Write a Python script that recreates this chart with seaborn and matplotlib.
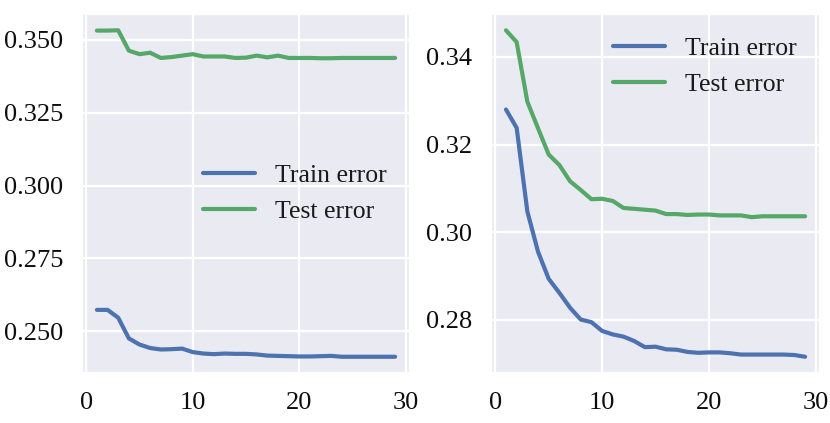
import numpy as np
import pandas as pd
import seaborn as sns
import matplotlib.pyplot as plt

# epochs 1..29
epochs = list(range(1, 30))

# left panel
train_left = [0.2573, 0.2573, 0.2546, 0.2475, 0.2454, 0.2442, 0.2437, 0.2438, 0.2440, 0.2428,
              0.2423, 0.2421, 0.2423, 0.2422, 0.2422, 0.2420, 0.2416, 0.2415, 0.2414, 0.2413,
              0.2413, 0.2414, 0.2415, 0.2412, 0.2412, 0.2412, 0.2412, 0.2412, 0.2412]
test_left = [0.3532, 0.3532, 0.3533, 0.3463, 0.3451, 0.3456, 0.3438, 0.3441, 0.3446, 0.3451,
             0.3443, 0.3443, 0.3443, 0.3438, 0.3439, 0.3446, 0.3440, 0.3446, 0.3438, 0.3438,
             0.3438, 0.3437, 0.3437, 0.3438, 0.3438, 0.3438, 0.3438, 0.3438, 0.3438]

# right panel
train_right = [0.3280, 0.3238, 0.3047, 0.2955, 0.2893, 0.2861, 0.2827, 0.2800, 0.2794, 0.2774,
               0.2766, 0.2761, 0.2751, 0.2737, 0.2738, 0.2732, 0.2731, 0.2726, 0.2724, 0.2725,
               0.2725, 0.2723, 0.2720, 0.2720, 0.2720, 0.2720, 0.2720, 0.2719, 0.2715]
test_right = [0.3461, 0.3434, 0.3298, 0.3237, 0.3177, 0.3153, 0.3116, 0.3096, 0.3075, 0.3076,
              0.3071, 0.3055, 0.3053, 0.3051, 0.3049, 0.3041, 0.3041, 0.3039, 0.3040, 0.3040,
              0.3038, 0.3038, 0.3038, 0.3034, 0.3036, 0.3036, 0.3036, 0.3036, 0.3036]

sns.set_theme(style="darkgrid", rc={'grid.linewidth': 1.6, 'axes.linewidth': 1.6})
plt.rcParams['font.family'] = ['Liberation Serif', 'DejaVu Serif']

# old seaborn "deep" blue / green
c_train = '#4C72B0'
c_test = '#55A868'

fig = plt.figure(figsize=(8.3, 4.23), dpi=100)
ax1 = fig.add_axes([0.0988, 0.118, 0.3952, 0.849])
ax2 = fig.add_axes([0.5916, 0.118, 0.3964, 0.849])

panels = [(ax1, train_left, test_left, 'center right'),
          (ax2, train_right, test_right, 'upper right')]
for ax, tr, te, loc in panels:
    sns.lineplot(x=epochs, y=tr, ax=ax, label='Train error', color=c_train, linewidth=3)
    sns.lineplot(x=epochs, y=te, ax=ax, label='Test error', color=c_test, linewidth=3)
    ax.set_xticks([0, 10, 20, 30])
    ax.tick_params(labelsize=19, length=0, pad=13.5, colors='.05')
    ax.legend(loc=loc, frameon=False, fontsize=18.5, labelcolor='.1')

ax1.set_yticks([0.250, 0.275, 0.300, 0.325, 0.350])
ax1.set_yticklabels(['0.250', '0.275', '0.300', '0.325', '0.350'])
ax2.set_yticks([0.28, 0.30, 0.32, 0.34])
ax2.set_yticklabels(['0.28', '0.30', '0.32', '0.34'])

fig.savefig('out.png', dpi=100)
